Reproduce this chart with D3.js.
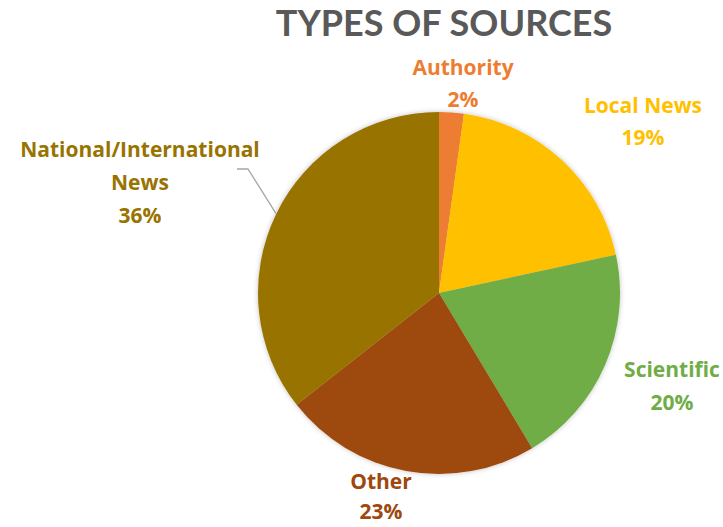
<!DOCTYPE html>
<html>
<head>
<meta charset="utf-8">
<script src="https://cdn.jsdelivr.net/npm/d3@7"></script>
<style>
  body { margin: 0; background: #fff; }
  text { font-family: Lato, "Open Sans", sans-serif; font-weight: 700; }
  text.lbl { font-family: "Open Sans", Lato, sans-serif; }
</style>
</head>
<body>
<div id="chart"></div>
<script>
const categories = ["Authority", "Local News", "Scientific", "Other", "National/International News"];
const shares = [2.2, 19.4, 19.8, 23.0, 35.6];
const pctLabels = ["2%", "19%", "20%", "23%", "36%"];
const colors = ["#ED7D31", "#FFC000", "#70AD47", "#9E480E", "#997300"];

const fullwidth = 723, fullheight = 527;
const cx = 439, cy = 293, radius = 181;

// label placement (lines of text, centre x, first baseline, line gap)
const labelLayout = [
  { lines: ["Authority"], x: 463, y: 75, gap: 32 },
  { lines: ["Local News"], x: 643, y: 113, gap: 32 },
  { lines: ["Scientific"], x: 672, y: 377, gap: 33 },
  { lines: ["Other"], x: 381, y: 489, gap: 30 },
  { lines: ["National/International", "News"], x: 140, y: 157, gap: 33 }
];

const svg = d3.select("#chart")
  .append("svg")
  .attr("width", fullwidth)
  .attr("height", fullheight);

const defs = svg.append("defs");
const shadow = defs.append("filter").attr("id", "shadow")
  .attr("x", "-10%").attr("y", "-10%").attr("width", "120%").attr("height", "120%");
shadow.append("feDropShadow")
  .attr("dx", 0).attr("dy", 0).attr("stdDeviation", 2.5)
  .attr("flood-color", "#000").attr("flood-opacity", 0.25);

// title
svg.append("text")
  .attr("x", 444)
  .attr("y", 36)
  .attr("text-anchor", "middle")
  .attr("fill", "#595959")
  .style("font-size", "36px")
  .text("TYPES OF SOURCES");

const pie = d3.pie().sort(null).value(d => d)(shares);
const arc = d3.arc().innerRadius(0).outerRadius(radius);

const g = svg.append("g")
  .attr("transform", `translate(${cx},${cy})`)
  .attr("filter", "url(#shadow)");

g.selectAll("path")
  .data(pie)
  .enter()
  .append("path")
  .attr("d", arc)
  .attr("fill", (d, i) => colors[i]);

// leader line for the national/international label
const natArc = pie[4];
const edgeAngle = (natArc.startAngle + natArc.endAngle) / 2;
const edge = [cx + radius * Math.sin(edgeAngle), cy - radius * Math.cos(edgeAngle)];
svg.append("polyline")
  .attr("points", `237,169 248,169 ${edge[0]},${edge[1]}`)
  .attr("fill", "none")
  .attr("stroke", "#a6a6a6")
  .attr("stroke-width", 1.3);

// data labels
labelLayout.forEach((lab, i) => {
  const t = svg.append("text")
    .attr("class", "lbl")
    .attr("text-anchor", "middle")
    .attr("fill", colors[i])
    .style("font-size", "21px");
  lab.lines.concat([pctLabels[i]]).forEach((line, k) => {
    t.append("tspan")
      .attr("x", lab.x)
      .attr("y", lab.y + k * lab.gap)
      .text(line);
  });
});
</script>
</body>
</html>
